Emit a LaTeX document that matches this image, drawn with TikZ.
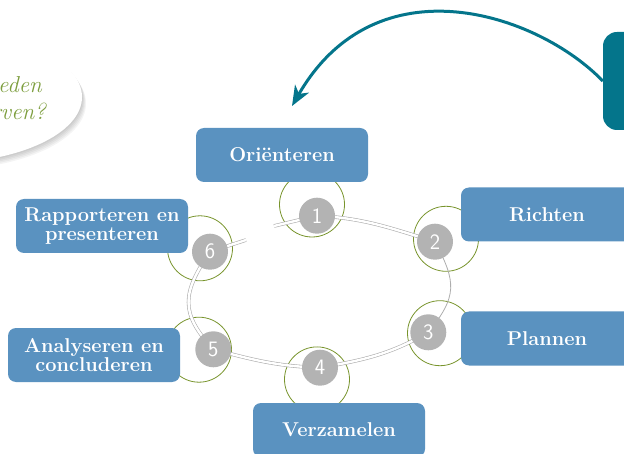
\documentclass[tikz,border=0pt]{standalone}
\usepackage{xcolor}
\usepackage{tikz}
\usetikzlibrary{arrows.meta, positioning}
\definecolor{stepblue}{RGB}{90,146,192}
\definecolor{cycleteal}{RGB}{4,117,139}
\definecolor{ringolive}{RGB}{120,148,44}
\definecolor{diskgray}{RGB}{179,179,179}
\definecolor{bubblegreen}{RGB}{125,158,62}

\begin{document}
\begin{tikzpicture}[x=1pt, y=1pt,
    stepbox/.style={fill=stepblue, rounded corners=8pt, minimum width=172pt,
        minimum height=54pt, inner sep=0pt, align=center, text=white,
        font=\fontsize{20}{19}\selectfont\bfseries},
    ring/.style={circle, draw=ringolive, line width=0.8pt, minimum size=65pt, inner sep=0pt},
    disk/.style={circle, fill=diskgray, minimum size=36pt, inner sep=0pt, text=white,
        font=\fontsize{22}{22}\selectfont\sffamily},
    track/.style={draw=black!32, line width=0.6pt, double=white, double distance=2.4pt},
    bubbletext/.style={anchor=base east, inner sep=0pt, text=bubblegreen,
        font=\fontsize{23}{23}\selectfont\itshape}]
    \useasboundingbox (0,0) rectangle (624,453);
    \clip (0,0) rectangle (624,453);

    % Speech bubble (cut off at the left), soft shadow first
    \foreach \s in {1,...,5} {
        \fill[black, opacity=0.045] (-60+0.8*\s,356-1.3*\s) ellipse (142 and 66);
    }
    \fill[white] (-60,356) ellipse (142 and 66);
    \node[bubbletext] (qa) at (42,360) {eden};
    \node[bubbletext] (qb) at (46,333) {rven?};

    % Rings around the steps
    \foreach \n/\x/\y in {1/312/248.5, 2/446/214.2, 3/440/119.8,
                          4/317/73.6, 5/199/103.3, 6/200/204.7} {
        \node[ring] (r\n) at (\x,\y) {};
    }

    % Step boxes
    \node[stepbox] (orient) at (282,298) {Oriënteren};
    \node[stepbox] (richten) at (547,238.5) {Richten};
    \node[stepbox] (plannen) at (547,114.5) {Plannen};
    \node[stepbox] (verzamelen) at (339,23) {Verzamelen};
    \node[stepbox] (analyseren) at (94,98) {Analyseren en\\concluderen};
    \node[stepbox] (rapport) at (102,227) {Rapporteren en\\presenteren};

    % Teal box with the arrow back to the start
    \node[fill=cycleteal, rounded corners=14pt, minimum width=172pt, minimum height=98pt]
        (terug) at (689,372) {};
    \coordinate (tip) at (292,347);
    \draw[cycleteal, line width=3pt, -{Stealth[length=20pt, width=16pt, inset=6pt]}]
        (terug.west) to[out=134, in=60, out looseness=0.77, in looseness=1.39] (tip);

    % Disks on the cycle
    \foreach \n/\x/\y in {1/317/237.3, 2/435/211.3, 3/428.3/120.7,
                          4/320/85.3, 5/213.3/103.7, 6/210/201.3} {
        \coordinate (d\n) at (\x,\y);
    }
    \coordinate (e1) at (274,227);
    \coordinate (e6) at (246,213);

    % Cycle track
    \draw[track] (e1) -- (d1) to[out=-3, in=163] (d2);
    \draw[black!32, line width=0.8pt] (d2) to[out=-62, in=51, looseness=1.3] (d3);
    \draw[track] (d3) to[out=210, in=10] (d4) to[out=178, in=-15] (d5)
        to[out=133, in=-124, looseness=1.3] (d6) -- (e6);

    \foreach \n in {1,...,6} {
        \node[disk] (s\n) at (d\n) {\n};
    }
\end{tikzpicture}
\end{document}
